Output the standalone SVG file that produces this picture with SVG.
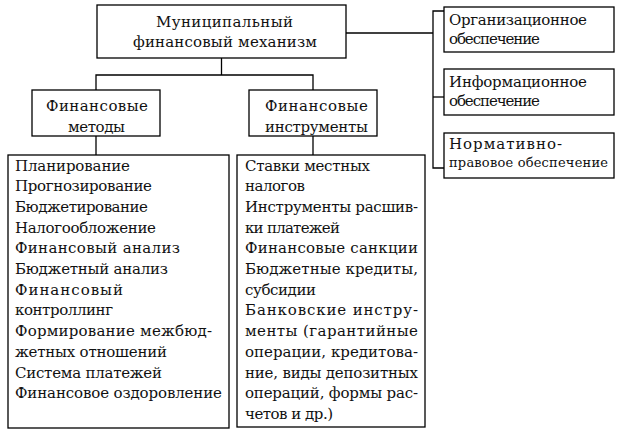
<svg xmlns="http://www.w3.org/2000/svg" width="620" height="434" viewBox="0 0 620 434">
<style>
rect{fill:#fff;stroke:#000;stroke-width:1.3}
.c line,.c polyline{stroke:#000;stroke-width:1.3;fill:none}
text{font-family:"DejaVu Serif","Liberation Serif",serif;font-size:15px;fill:#111}
.m{text-anchor:middle}
</style>
<rect x="0" y="0" width="620" height="434" style="stroke:none"/>
<g class="c" id="connectors">
<line x1="221.5" y1="58" x2="221.5" y2="75"/>
<polyline points="96,90 96,75 313,75 313,90"/>
<line x1="96" y1="136" x2="96" y2="155"/>
<line x1="313" y1="136" x2="313" y2="155"/>
<line x1="346" y1="33" x2="433" y2="33"/>
<polyline points="444,11 433,11 433,168 444,168"/>
<line x1="433" y1="97" x2="444" y2="97"/>
</g>
<g id="top">
<rect x="97" y="5" width="249" height="53"/>
<text class="m" x="224.5" y="27" textLength="137" lengthAdjust="spacing">Муниципальный</text>
<text class="m" x="225" y="47" textLength="184" lengthAdjust="spacing">финансовый механизм</text>
</g>
<g id="methods">
<rect x="32" y="90" width="128" height="46"/>
<text class="m" x="97" y="111" textLength="102" lengthAdjust="spacing">Финансовые</text>
<text class="m" x="96.5" y="132" textLength="57" lengthAdjust="spacing">методы</text>
</g>
<g id="instruments">
<rect x="249" y="90" width="128" height="46"/>
<text class="m" x="316.5" y="111" textLength="103" lengthAdjust="spacing">Финансовые</text>
<text class="m" x="316.5" y="132" textLength="103" lengthAdjust="spacing">инструменты</text>
</g>
<g id="org">
<rect x="444" y="7" width="170" height="45"/>
<text x="449" y="24.5" textLength="138" lengthAdjust="spacing">Организационное</text>
<text x="449" y="44" textLength="91" lengthAdjust="spacing">обеспечение</text>
</g>
<g id="info">
<rect x="444" y="69" width="170" height="46"/>
<text x="449" y="86.5" textLength="138" lengthAdjust="spacing">Информационное</text>
<text x="449" y="106" textLength="91" lengthAdjust="spacing">обеспечение</text>
</g>
<g id="norm">
<rect x="444" y="133" width="170" height="45"/>
<text x="449" y="148.5" textLength="113" lengthAdjust="spacing">Нормативно-</text>
<text x="449" y="167" style="font-size:13px" textLength="159" lengthAdjust="spacing">правовое обеспечение</text>
</g>
<g id="methods-list">
<rect x="8" y="155" width="221" height="273"/>
<text x="15" y="170.5" textLength="115" lengthAdjust="spacing">Планирование</text>
<text x="15" y="191.2" textLength="137" lengthAdjust="spacing">Прогнозирование</text>
<text x="15" y="211.9" textLength="133" lengthAdjust="spacing">Бюджетирование</text>
<text x="15" y="232.6" textLength="141" lengthAdjust="spacing">Налогообложение</text>
<text x="15" y="253.3" textLength="165" lengthAdjust="spacing">Финансовый анализ</text>
<text x="15" y="274" textLength="153" lengthAdjust="spacing">Бюджетный анализ</text>
<text x="15" y="294.7" textLength="108" lengthAdjust="spacing">Финансовый</text>
<text x="15" y="315.4" textLength="98" lengthAdjust="spacing">контроллинг</text>
<text x="15" y="336.1" textLength="197" lengthAdjust="spacing">Формирование межбюд-</text>
<text x="15" y="356.8" textLength="152" lengthAdjust="spacing">жетных отношений</text>
<text x="15" y="377.5" textLength="147" lengthAdjust="spacing">Система платежей</text>
<text x="15" y="398.2" textLength="207" lengthAdjust="spacing">Финансовое оздоровление</text>
</g>
<g id="instruments-list">
<rect x="237" y="155" width="188" height="272"/>
<text x="245" y="170.5" textLength="125" lengthAdjust="spacing">Ставки местных</text>
<text x="245" y="191.2" textLength="60" lengthAdjust="spacing">налогов</text>
<text x="245" y="211.9" textLength="173" lengthAdjust="spacing">Инструменты расшив-</text>
<text x="245" y="232.6" textLength="95" lengthAdjust="spacing">ки платежей</text>
<text x="245" y="253.3" textLength="173" lengthAdjust="spacing">Финансовые санкции</text>
<text x="245" y="274" textLength="173" lengthAdjust="spacing">Бюджетные кредиты,</text>
<text x="245" y="294.7" textLength="71" lengthAdjust="spacing">субсидии</text>
<text x="245" y="315.4" textLength="173" lengthAdjust="spacing">Банковские инстру-</text>
<text x="245" y="336.1" textLength="173" lengthAdjust="spacing">менты (гарантийные</text>
<text x="245" y="356.8" textLength="173" lengthAdjust="spacing">операции, кредитова-</text>
<text x="245" y="377.5" textLength="173" lengthAdjust="spacing">ние, виды депозитных</text>
<text x="245" y="398.2" textLength="173" lengthAdjust="spacing">операций, формы рас-</text>
<text x="245" y="418.9" textLength="88" lengthAdjust="spacing">четов и др.)</text>
</g>
</svg>
